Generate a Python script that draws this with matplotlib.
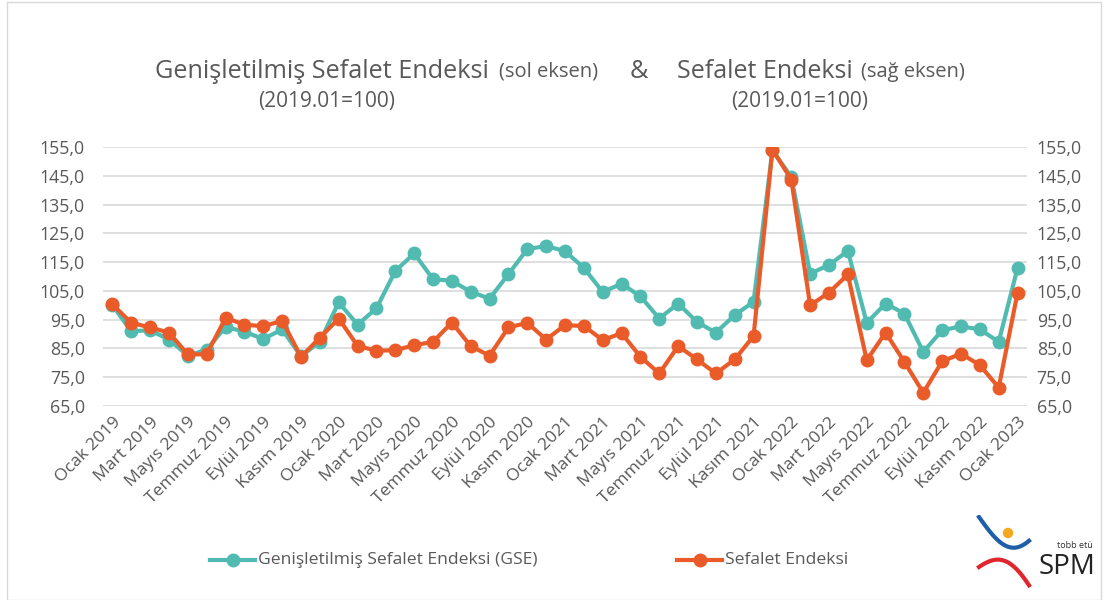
import matplotlib
matplotlib.use('Agg')
import matplotlib.pyplot as plt
from matplotlib.patches import Rectangle, Circle
import numpy as np

months = ["Ocak", "Şubat", "Mart", "Nisan", "Mayıs", "Haziran",
          "Temmuz", "Ağustos", "Eylül", "Ekim", "Kasım", "Aralık"]
labels = [f"{months[i % 12]} {2019 + i // 12}" for i in range(49)]

gse = [100.0, 91.0, 91.3, 88.1, 82.5, 84.6, 92.5, 90.8, 88.3, 91.6,
       82.3, 87.3, 101.0, 93.3, 98.9, 111.9, 118.0, 109.1, 108.5, 104.7,
       102.3, 110.8, 119.5, 120.6, 118.8, 113.0, 104.6, 107.5, 103.1, 95.4,
       100.6, 94.2, 90.5, 96.6, 101.2, 153.8, 144.6, 111.0, 114.0, 118.9,
       93.9, 100.6, 97.1, 83.8, 91.3, 92.7, 91.6, 87.3, 113.0]
se = [100.3, 93.9, 92.3, 90.5, 82.9, 83.0, 95.6, 93.3, 92.7, 94.6,
      82.1, 88.7, 95.4, 85.9, 84.2, 84.4, 86.1, 87.3, 94.0, 85.8,
      82.5, 92.3, 93.9, 88.1, 93.1, 92.8, 87.9, 90.3, 82.1, 76.3,
      85.8, 81.2, 76.3, 81.2, 89.3, 154.1, 143.7, 100.0, 104.4, 110.7,
      80.9, 90.5, 80.3, 69.6, 80.5, 83.2, 79.2, 71.4, 104.4]
yticks = np.arange(65, 156, 10)

teal = '#52BBB1'
orange = '#EA5B2A'
grey = '#595959'
plt.rcParams['font.family'] = ['Open Sans', 'DejaVu Sans']

W, H = 1109, 600
fig = plt.figure(figsize=(W / 100, H / 100), dpi=100)

def px(x, y):
    return x / W, 1 - y / H

ax = fig.add_axes([103 / W, 1 - 406 / H, (1027 - 103) / W, (406 - 147) / H])
x = np.arange(len(gse))
ax.plot(x, gse, '-o', color=teal, lw=3, ms=9, zorder=3)
ax.set_xlim(-0.5, 48.5)
ax.set_ylim(65, 155)
ax.set_yticks(yticks)
ax.set_yticklabels([f"{v:.1f}".replace('.', ',') for v in yticks], fontsize=12.8, color=grey)
ax.set_xticks(x[::2])
ax.set_xticklabels(labels[::2], rotation=45, ha='right', rotation_mode='anchor',
                   fontsize=12.6, color=grey)
ax.grid(axis='y', color='#D9D9D9', lw=1.2)
ax.set_axisbelow(True)
for s in ax.spines.values():
    s.set_visible(False)
ax.tick_params(axis='y', length=0, pad=13)
ax.tick_params(axis='x', length=0, pad=6)

ax2 = ax.twinx()
ax2.plot(x, se, '-o', color=orange, lw=3, ms=9, zorder=4)
ax2.set_ylim(65, 155)
ax2.set_yticks(yticks)
ax2.set_yticklabels([f"{v:.1f}".replace('.', ',') for v in yticks], fontsize=12.8, color=grey)
for s in ax2.spines.values():
    s.set_visible(False)
ax2.tick_params(length=0, pad=7)

# title
fig.text(*px(155, 71), "Genişletilmiş Sefalet Endeksi", fontsize=18.2, color=grey, va='center')
fig.text(*px(499, 72), "(sol eksen)", fontsize=14.5, color=grey, va='center')
fig.text(*px(630, 71), "&", fontsize=18.2, color=grey, va='center')
fig.text(*px(677, 71), "Sefalet Endeksi", fontsize=18, color=grey, va='center')
fig.text(*px(861, 72), "(sağ eksen)", fontsize=14.5, color=grey, va='center')
fig.text(*px(327, 101), "(2019.01=100)", fontsize=15, color=grey, va='center', ha='center')
fig.text(*px(800, 101), "(2019.01=100)", fontsize=15, color=grey, va='center', ha='center')

# legend
for x0, col, txt in [(210, teal, "Genişletilmiş Sefalet Endeksi (GSE)"),
                     (677, orange, "Sefalet Endeksi")]:
    fig.add_artist(plt.Line2D([x0 / W, (x0 + 45) / W], [1 - 560 / H] * 2, color=col, lw=3,
                              transform=fig.transFigure))
    fig.add_artist(plt.Line2D([(x0 + 22.5) / W], [1 - 560 / H], color=col, marker='o', ms=9,
                              transform=fig.transFigure))
    fig.text(*px(x0 + 48, 560), txt, fontsize=12.6, color=grey, va='center')

# logo
ax_logo = fig.add_axes([975 / W, 1 - 595 / H, 60 / W, 80 / H])
ax_logo.set_xlim(0, 60)
ax_logo.set_ylim(80, 0)
ax_logo.axis('off')
t = np.linspace(0, 1, 40)
ax_logo.plot(4 + 50 * t, 2 + 28 * np.sin(np.pi * t * 0.75) + 4 * t, color='#1F5FA8', lw=3)
ax_logo.plot(4 + 50 * t, 52 - 12 * np.sin(np.pi * t * 0.9) + 22 * t ** 2, color='#E0262C', lw=3)
ax_logo.add_patch(Circle((33, 18), 4.5, color='#F5A81C'))
fig.text(*px(1075, 545), "tobb etü", fontsize=6.5, color='#333333', va='center', ha='center')
fig.text(*px(1067, 567), "SPM", fontsize=20, color='#222222', va='center', ha='center')

# border
fig.add_artist(Rectangle((7 / W, 0), 1094 / W, 598 / H, fill=False, ec='#D9D9D9', lw=1,
                         transform=fig.transFigure))

fig.savefig('out.png', dpi=100)
